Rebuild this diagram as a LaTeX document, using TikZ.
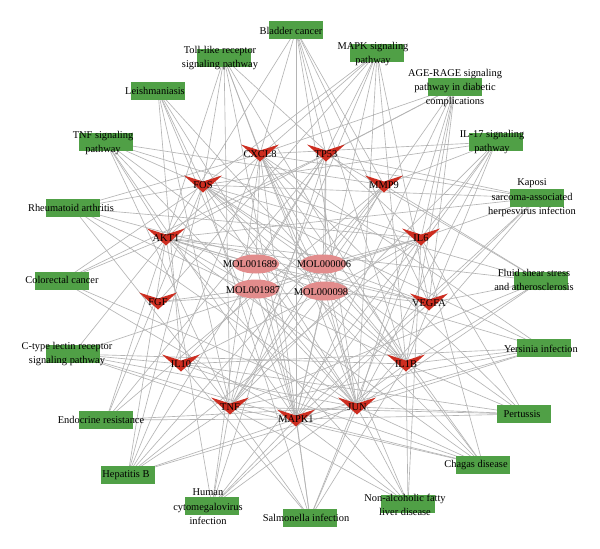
\documentclass[tikz,border=0pt]{standalone}
\usepackage{fontspec}
\setmainfont{Liberation Serif}
\usetikzlibrary{shapes.geometric}
\definecolor{pathgreen}{RGB}{80,160,70}
\definecolor{targetred}{RGB}{205,45,32}
\definecolor{molpink}{RGB}{226,140,140}
\definecolor{edgegray}{RGB}{180,180,180}
\pgfdeclarelayer{edges}
\pgfdeclarelayer{marks}
\pgfsetlayers{edges,marks,main}
\tikzset{
  txt/.style={align=center, inner sep=0pt, font=\fontsize{7.4}{10.3}\selectfont},
  pathway/.style={fill=pathgreen, inner sep=0pt, minimum width=1.325cm, minimum height=0.45cm},
  target/.style={txt},
  mol/.style={ellipse, fill=molpink, inner sep=0pt, minimum width=1.15cm, minimum height=0.475cm},
  edge/.style={draw=edgegray, line width=0.45pt}
}

\begin{document}
\begin{tikzpicture}[x=0.025cm, y=-0.025cm]
      \useasboundingbox (0,0) rectangle (600,548);
      % pathways
      \node[pathway] (bladder) at (296,30) {};
      \node[txt] (bladder-l) at (291,31) {Bladder cancer};
      \node[pathway] (toll) at (224,58) {};
      \node[txt] (toll-l) at (220,58) {Toll-like receptor\\signaling pathway};
      \node[pathway] (mapkp) at (377,53) {};
      \node[txt] (mapkp-l) at (373,54) {MAPK signaling\\pathway};
      \node[pathway] (agerage) at (455,87) {};
      \node[txt] (agerage-l) at (455,88) {AGE-RAGE signaling\\pathway in diabetic\\complications};
      \node[pathway] (ilseventeen) at (496,142) {};
      \node[txt] (ilseventeen-l) at (492,142) {IL-17 signaling\\pathway};
      \node[pathway] (kaposi) at (537,198) {};
      \node[txt] (kaposi-l) at (532,198) {Kaposi\\sarcoma-associated\\herpesvirus infection};
      \node[pathway] (fluid) at (541,281) {};
      \node[txt] (fluid-l) at (534,280) {Fluid shear stress\\and atherosclerosis};
      \node[pathway] (yersinia) at (544,348) {};
      \node[txt] (yersinia-l) at (541,349) {Yersinia infection};
      \node[pathway] (pertussis) at (524,414) {};
      \node[txt] (pertussis-l) at (522,414) {Pertussis};
      \node[pathway] (chagas) at (483,465) {};
      \node[txt] (chagas-l) at (476,465) {Chagas disease};
      \node[pathway] (nafld) at (408,504) {};
      \node[txt] (nafld-l) at (405,505) {Non-alcoholic fatty\\liver disease};
      \node[pathway] (salmonella) at (310,518) {};
      \node[txt] (salmonella-l) at (306,518) {Salmonella infection};
      \node[pathway] (hcmv) at (212,506) {};
      \node[txt] (hcmv-l) at (208,507) {Human\\cytomegalovirus\\infection};
      \node[pathway] (hepb) at (128,475) {};
      \node[txt] (hepb-l) at (126,475) {Hepatitis B};
      \node[pathway] (endocrine) at (106,420) {};
      \node[txt] (endocrine-l) at (101,420) {Endocrine resistance};
      \node[pathway] (ctype) at (73,354) {};
      \node[txt] (ctype-l) at (67,354) {C-type lectin receptor\\signaling pathway};
      \node[pathway] (colorectal) at (62,281) {};
      \node[txt] (colorectal-l) at (62,280) {Colorectal cancer};
      \node[pathway] (rheum) at (73,208) {};
      \node[txt] (rheum-l) at (71,208) {Rheumatoid arthritis};
      \node[pathway] (tnfp) at (106,142) {};
      \node[txt] (tnfp-l) at (103,143) {TNF signaling\\pathway};
      \node[pathway] (leish) at (158,91) {};
      \node[txt] (leish-l) at (155,91) {Leishmaniasis};
      % targets
      \node[target] (cxcl) at (260,154) {CXCL8};
      \node[target] (tp) at (326,154) {TP53};
      \node[target] (fos) at (203,185) {FOS};
      \node[target] (mmp) at (384,185) {MMP9};
      \node[target] (akt) at (166,238) {AKT1};
      \node[target] (ilsix) at (421,238) {IL6};
      \node[target] (fgf) at (158,302) {FGF};
      \node[target] (vegfa) at (429,303) {VEGFA};
      \node[target] (ilten) at (181,364) {IL10};
      \node[target] (ilb) at (406,364) {IL1B};
      \node[target] (tnf) at (230,407) {TNF};
      \node[target] (mapk) at (296,419) {MAPK1};
      \node[target] (jun) at (357,407) {JUN};
      % compounds
      \node[mol] (mola) at (256,264) {};
      \node[txt] (mola-l) at (250,264) {MOL001689};
      \node[mol] (molb) at (323,264) {};
      \node[txt] (molb-l) at (324,264) {MOL000006};
      \node[mol] (molc) at (256,289) {};
      \node[txt] (molc-l) at (253,290) {MOL001987};
      \node[mol] (mold) at (325,291) {};
      \node[txt] (mold-l) at (321,292) {MOL000098};

      \begin{pgfonlayer}{marks}
      \foreach \t in {cxcl,tp,fos,mmp,akt,ilsix,fgf,vegfa,ilten,ilb,tnf,mapk,jun}
        \fill[targetred] ([shift={(-19,-9.5)}]\t.center) -- ([shift={(0,-3.5)}]\t.center)
          -- ([shift={(19,-9.5)}]\t.center) -- ([shift={(0,7.5)}]\t.center) -- cycle;
      \end{pgfonlayer}

      \begin{pgfonlayer}{edges}
      \fill[white] (0,0) rectangle (600,548);
      \foreach \t in {cxcl,tp,mmp,vegfa,mapk,akt,jun,ilb} \draw[edge] (bladder.center) -- (\t.center);
      \foreach \t in {fos,jun,akt,tnf,ilsix,ilb,cxcl,mapk} \draw[edge] (toll.center) -- (\t.center);
      \foreach \t in {fos,jun,akt,tnf,ilb,tp,mapk,fgf,vegfa} \draw[edge] (mapkp.center) -- (\t.center);
      \foreach \t in {akt,tnf,ilsix,ilb,cxcl,vegfa,mapk,jun,tp} \draw[edge] (agerage.center) -- (\t.center);
      \foreach \t in {fos,jun,tnf,ilsix,ilb,cxcl,mmp,mapk} \draw[edge] (ilseventeen.center) -- (\t.center);
      \foreach \t in {akt,cxcl,fos,ilsix,jun,mapk,tp,vegfa} \draw[edge] (kaposi.center) -- (\t.center);
      \foreach \t in {akt,tnf,ilb,jun,fos,mmp,tp,vegfa} \draw[edge] (fluid.center) -- (\t.center);
      \foreach \t in {akt,fos,jun,tnf,ilten,ilb,cxcl,mapk} \draw[edge] (yersinia.center) -- (\t.center);
      \foreach \t in {fos,jun,tnf,ilsix,ilten,ilb,cxcl,mapk} \draw[edge] (pertussis.center) -- (\t.center);
      \foreach \t in {akt,fos,jun,tnf,ilsix,ilten,ilb,cxcl,mapk} \draw[edge] (chagas.center) -- (\t.center);
      \foreach \t in {akt,jun,tnf,ilsix,ilb,cxcl,mapk} \draw[edge] (nafld.center) -- (\t.center);
      \foreach \t in {fos,jun,tnf,ilsix,ilb,cxcl,mapk,ilten} \draw[edge] (salmonella.center) -- (\t.center);
      \foreach \t in {akt,cxcl,ilb,ilsix,tnf,tp,mapk,vegfa} \draw[edge] (hcmv.center) -- (\t.center);
      \foreach \t in {akt,fos,jun,tnf,ilsix,cxcl,tp,mapk,mmp} \draw[edge] (hepb.center) -- (\t.center);
      \foreach \t in {akt,fos,jun,tp,mapk,mmp} \draw[edge] (endocrine.center) -- (\t.center);
      \foreach \t in {akt,tnf,ilsix,ilten,ilb,jun,mapk} \draw[edge] (ctype.center) -- (\t.center);
      \foreach \t in {akt,fos,jun,tp,mapk} \draw[edge] (colorectal.center) -- (\t.center);
      \foreach \t in {tnf,ilsix,ilb,cxcl,fos,jun,vegfa} \draw[edge] (rheum.center) -- (\t.center);
      \foreach \t in {akt,fos,jun,tnf,ilsix,ilb,mmp,mapk} \draw[edge] (tnfp.center) -- (\t.center);
      \foreach \t in {fos,jun,tnf,ilten,ilb,mapk} \draw[edge] (leish.center) -- (\t.center);
      % compound-target links
      \foreach \t in {cxcl,tp,akt,fos,jun,mapk,vegfa} \draw[edge] (mola.center) -- (\t.center);
      \foreach \t in {tp,mmp,ilsix,vegfa,ilb,tnf,cxcl,fos,akt,jun} \draw[edge] (molb.center) -- (\t.center);
      \foreach \t in {fgf,akt,tnf,ilten,mapk,jun,ilsix} \draw[edge] (molc.center) -- (\t.center);
      \foreach \t in {cxcl,tp,fos,mmp,akt,ilsix,fgf,vegfa,ilten,ilb,tnf,mapk,jun} \draw[edge] (mold.center) -- (\t.center);
      \end{pgfonlayer}
\end{tikzpicture}
\end{document}
